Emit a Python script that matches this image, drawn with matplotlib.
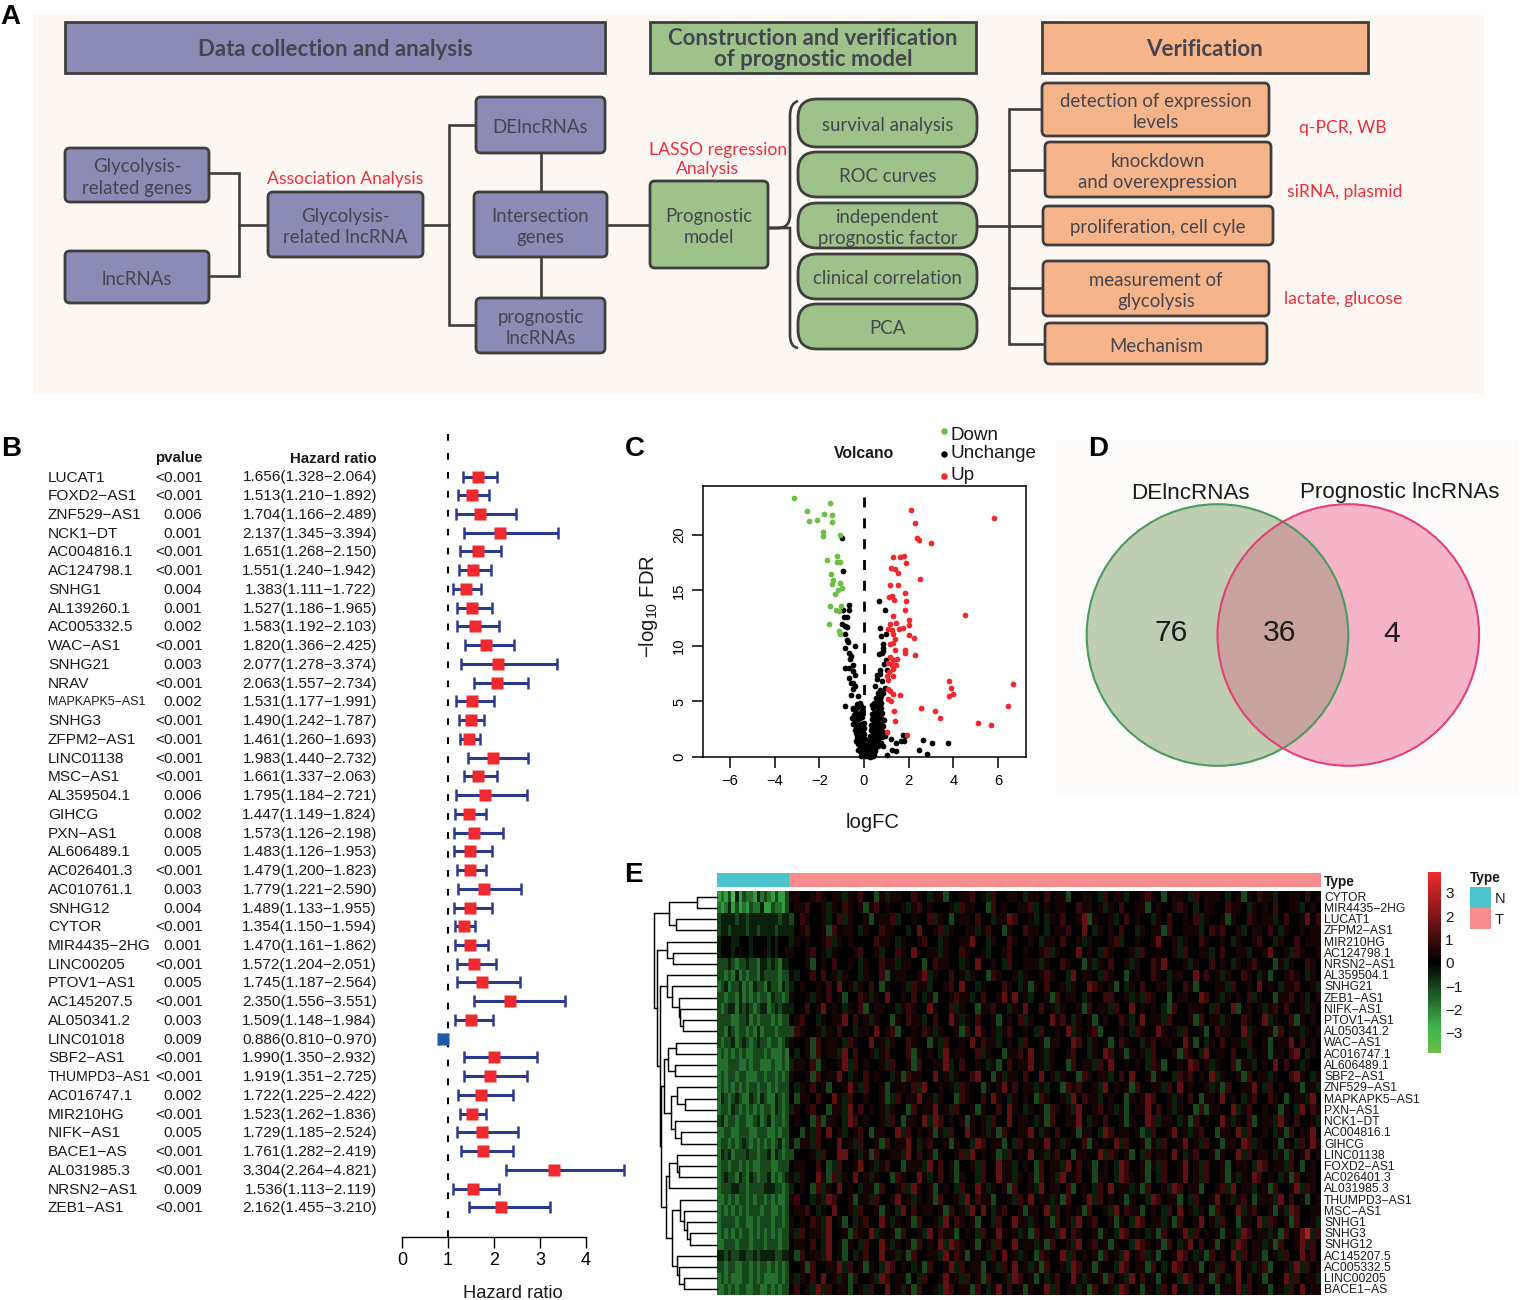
import matplotlib
matplotlib.use("Agg")
import matplotlib.pyplot as plt
import numpy as np
from matplotlib.patches import FancyBboxPatch, Rectangle, Circle, PathPatch
from matplotlib.path import Path
from matplotlib.colors import LinearSegmentedColormap, Normalize
from matplotlib.cm import ScalarMappable

plt.rcParams['font.family'] = ['Liberation Sans', 'DejaVu Sans']
plt.rcParams['mathtext.default'] = 'regular'

# ---------- forest plot data ----------
genes = ["LUCAT1","FOXD2−AS1","ZNF529−AS1","NCK1−DT","AC004816.1","AC124798.1","SNHG1","AL139260.1","AC005332.5","WAC−AS1",
         "SNHG21","NRAV","MAPKAPK5−AS1","SNHG3","ZFPM2−AS1","LINC01138","MSC−AS1","AL359504.1","GIHCG","PXN−AS1",
         "AL606489.1","AC026401.3","AC010761.1","SNHG12","CYTOR","MIR4435−2HG","LINC00205","PTOV1−AS1","AC145207.5","AL050341.2",
         "LINC01018","SBF2−AS1","THUMPD3−AS1","AC016747.1","MIR210HG","NIFK−AS1","BACE1−AS","AL031985.3","NRSN2−AS1","ZEB1−AS1"]
pvals = ["<0.001","<0.001","0.006","0.001","<0.001","<0.001","0.004","0.001","0.002","<0.001",
         "0.003","<0.001","0.002","<0.001","<0.001","<0.001","<0.001","0.006","0.002","0.008",
         "0.005","<0.001","0.003","0.004","<0.001","0.001","<0.001","0.005","<0.001","0.003",
         "0.009","<0.001","<0.001","0.002","<0.001","0.005","<0.001","<0.001","0.009","<0.001"]
hr = [1.656,1.513,1.704,2.137,1.651,1.551,1.383,1.527,1.583,1.820,2.077,2.063,1.531,1.490,1.461,1.983,1.661,1.795,1.447,1.573,
      1.483,1.479,1.779,1.489,1.354,1.470,1.572,1.745,2.350,1.509,0.886,1.990,1.919,1.722,1.523,1.729,1.761,3.304,1.536,2.162]
hr_low = [1.328,1.210,1.166,1.345,1.268,1.240,1.111,1.186,1.192,1.366,1.278,1.557,1.177,1.242,1.260,1.440,1.337,1.184,1.149,1.126,
          1.126,1.200,1.221,1.133,1.150,1.161,1.204,1.187,1.556,1.148,0.810,1.350,1.351,1.225,1.262,1.185,1.282,2.264,1.113,1.455]
hr_high = [2.064,1.892,2.489,3.394,2.150,1.942,1.722,1.965,2.103,2.425,3.374,2.734,1.991,1.787,1.693,2.732,2.063,2.721,1.824,2.198,
           1.953,1.823,2.590,1.955,1.594,1.862,2.051,2.564,3.551,1.984,0.970,2.932,2.725,2.422,1.836,2.524,2.419,4.821,2.119,3.210]

# ---------- volcano data ----------
down_x = [-3.15,-1.54,-2.54,-1.80,-1.45,-2.46,-2.09,-1.45,-1.84,-1.84,-1.06,-1.19,-1.64,-1.21,-1.06,-1.46,-1.37,-1.42,-1.07,-0.99,-1.15,-1.29,-1.51,-1.27,-1.11,-1.05,-1.55,-1.11,-1.07]
down_y = [23.3,22.9,22.15,21.9,21.8,21.25,21.3,21.2,20.3,19.9,20.0,18.1,17.7,17.55,17.6,16.45,15.9,15.6,15.7,15.2,15.0,14.7,13.6,13.25,13.1,13.55,12.0,11.35,11.1]
up_x = [2.09,5.82,2.30,2.39,2.45,3.0,1.30,1.61,1.78,1.88,1.22,1.37,1.51,2.49,1.18,1.54,1.84,1.24,1.12,1.33,1.88,1.85,4.52,1.3,2.03,2.01,1.43,1.18,1.07,1.27,1.58,1.76,1.31,2.01,2.25,1.37,1.28,1.16,1.85,1.37,1.84,2.27,1.15,1.3,1.49,1.07,1.25,1.43,1.3,1.1,1.01,1.31,1.07,3.82,3.91,3.99,6.67,3.79,1.07,1.16,1.31,1.61,1.09,1.19,2.57,6.45,1.34,3.16,3.42,1.37,5.12,5.67,1.03,1.93]
up_y = [22.2,21.5,21.04,19.7,19.5,19.27,17.98,18.0,18.1,17.45,17.0,16.95,16.55,16.0,15.5,15.5,14.8,14.5,14.4,14.1,14.0,13.25,12.8,12.7,12.3,11.85,12.1,12.0,11.55,11.45,11.55,11.6,11.1,11.0,10.7,10.6,10.25,10.2,9.65,9.6,9.4,9.2,9.0,8.75,8.8,8.5,8.3,8.3,7.9,7.65,7.25,7.25,6.9,6.85,6.2,5.7,6.6,5.45,6.15,5.9,5.7,5.6,5.2,5.0,4.4,4.55,4.1,4.1,3.5,3.2,3.05,2.9,2.25,2.0]
same_x = [-0.97,-0.95,-0.67,-0.67,-0.94,-0.90,-0.78,-0.97,-0.85,-0.78,-0.85,-0.78,-0.72,-0.84,-0.42,-0.65,-0.6,-0.63,-0.5,-0.87,-0.67,-0.5,-0.41,-0.66,-0.6,-0.48,-0.4,-0.48,-0.6,-0.27,-0.84,-0.48,-0.33,-0.18,
          -0.5,-0.42,-0.35,-0.25,-0.15,-0.45,-0.38,-0.3,-0.2,-0.1,-0.42,-0.35,-0.28,-0.18,-0.08,-0.5,-0.38,-0.3,-0.22,-0.12,-0.02,-0.36,-0.28,-0.2,-0.1,-0.02,-0.3,-0.24,-0.15,-0.07,0.02,-0.25,-0.18,-0.1,-0.03,0.05,-0.18,-0.12,-0.05,0.02,0.08,-0.12,-0.06,0.0,0.05,0.1,
          -0.55,-0.44,-0.33,-0.22,-0.4,-0.3,-0.2,-0.12,-0.34,-0.24,-0.14,-0.05,-0.28,-0.18,-0.08,0.0,
          0.66,0.94,0.73,0.97,0.78,0.84,0.87,0.87,0.79,0.69,0.97,0.91,0.72,0.6,0.72,1.01,0.6,0.79,0.49,0.72,0.94,0.64,0.87,0.34,
          0.55,0.62,0.7,0.78,0.45,0.52,0.6,0.68,0.76,0.42,0.5,0.58,0.66,0.74,0.38,0.46,0.54,0.62,0.7,0.8,0.36,0.44,0.52,0.6,0.68,0.78,0.88,0.32,0.4,0.48,0.56,0.64,0.74,0.84,0.3,0.38,0.46,0.54,0.62,0.72,0.82,0.92,0.26,0.34,0.42,0.5,0.58,0.68,0.8,0.92,0.22,0.3,0.38,0.46,0.54,0.64,0.74,0.2,0.28,0.36,0.44,0.52,0.62,0.16,0.24,0.32,0.4,0.48,0.12,0.2,0.28,0.36,0.44,0.1,0.18,0.26,0.34,0.42,
          1.22,1.76,1.84,1.64,1.79,1.43,2.66,3.06,3.75,2.45,2.83,1.24,1.42,1.01,0.84]
same_y = [19.7,16.75,13.65,13.2,13.2,12.6,12.6,12.0,11.8,11.7,11.1,10.5,10.35,9.85,10.0,9.4,9.1,8.8,8.25,8.05,8.05,7.75,7.4,7.1,6.7,6.7,6.4,6.1,5.6,5.5,4.55,4.45,4.75,4.9,
          4.3,4.2,4.4,4.5,4.6,3.8,3.7,3.9,4.0,4.1,3.2,3.3,3.4,3.5,3.6,3.0,2.7,2.8,2.9,3.0,3.1,2.2,2.3,2.4,2.5,2.6,1.8,1.7,1.9,2.0,2.1,1.2,1.3,1.4,1.5,1.6,0.8,0.7,0.9,1.0,1.1,0.1,0.2,0.3,0.4,0.5,
          3.5,3.45,3.55,3.5,2.45,2.5,2.4,2.45,1.45,1.5,1.4,1.45,0.6,0.55,0.45,0.6,
          14.0,13.25,11.6,11.1,10.85,10.2,9.8,9.55,9.4,9.3,8.7,8.35,7.85,7.4,7.5,7.8,7.0,6.8,6.35,6.05,6.2,5.75,5.75,4.7,
          5.3,5.4,5.2,5.5,4.9,4.8,5.0,4.7,4.9,4.4,4.5,4.6,4.3,4.4,3.9,4.0,3.8,4.1,3.9,4.0,3.4,3.5,3.3,3.6,3.4,3.5,3.3,2.9,3.0,2.8,3.1,2.9,3.0,2.8,2.4,2.5,2.3,2.6,2.4,2.5,2.3,2.2,1.9,2.0,1.8,2.1,1.9,2.0,1.8,1.9,1.4,1.5,1.3,1.6,1.4,1.5,1.3,0.9,1.0,0.8,1.1,0.9,1.0,0.5,0.6,0.4,0.7,0.5,0.2,0.3,0.1,0.3,0.2,0.05,0.1,0.0,0.1,0.05,
          1.65,1.95,1.85,1.45,1.4,1.25,1.5,1.25,1.25,0.65,0.25,0.6,0.55,0.2,1.0]

# ---------- venn ----------
venn_counts = ["76", "36", "4"]
venn_names = ["DElncRNAs", "Prognostic lncRNAs"]

# ---------- heatmap data (colour codes read by eye, 0 = greenest, 5 = black, 9 = reddest) ----------
heat_genes = ["CYTOR","MIR4435−2HG","LUCAT1","ZFPM2−AS1","MIR210HG","AC124798.1","NRSN2−AS1","AL359504.1","SNHG21","ZEB1−AS1","NIFK−AS1","PTOV1−AS1",
              "AL050341.2","WAC−AS1","AC016747.1","AL606489.1","SBF2−AS1","ZNF529−AS1","MAPKAPK5−AS1","PXN−AS1","NCK1−DT","AC004816.1","GIHCG","LINC01138",
              "FOXD2−AS1","AC026401.3","AL031985.3","THUMPD3−AS1","MSC−AS1","SNHG1","SNHG3","SNHG12","AC145207.5","AC005332.5","LINC00205","BACE1−AS"]
heat_values = [
"12130413221423213113 6655676566465755364665576546635566756475566546657566355665475664556765356654756665456365766455665756",
"21241312132241132213 5667556465765636756556467565556476655375655667456566557665646575566356556765456655766546565755664565",
"34444344344444444344 3576556457465563566745565574653566575546687556454657556836556457565546575565746556365576566457556857",
"34434444344344443444 4567556375665465576655458556746556646755365576654566755854656575546566375566645767556456657546556566",
"45554455545555454555 4656556746565555766546556755465566855465576556546657556465556745565568556465576556546556755465575666",
"45554565545556454556 6556756465556755645576585566465576556455675565567465558565476555647556556475566457556645568556476556",
"33343233433244343244 5556356575565465576646655357665546585565475566646557655364657556465576855564655756546567555364655765",
"33232423233243333233 6455757564655465573566556846557564655376556465567655485665476553565576546655857564655765463556765465",
"23423342324332433243 4565565758564657536556476645567585546555765463657556465587656354657556645576355566475565856546675564",
"33233242323233243323 6556465756355764658556575463556766457556858564556375665465577556464765535665587564656574655366756456",
"32344243432344234344 4557568565465735665546765586557465536675546585575646556375664755856565437556665475583565646757556465",
"33332233423233323233 5675546566857564655365766457558646575563565746555867546563565576458566475556375664655765584655736565",
"33243233232423332333 3765564657554665856735565764655637586564675565475565846567355565476558656475563576655846556375664656",
"32334234323433233234 6556375665476558564655765536475565857664565475563665587546563576554675665586354657566475563566857565",
"23232323223332322232 5456375664857556467555736565485665574655366758564655675546587563656475556376548566575546563665785465",
"22233322323322232232 4665736556847565564755637556684575565463575668564655375664758556565476355658756465573664565857564655",
"23233233222332332323 6556375668546575655463766558564655785536466575585646553765664575855636554767565846556375664655786546",
"23232323233233232333 5465756355686475563566574855656476553656857566464553767556485656375566475856556463755668547565563664",
"24323432243243224323 5366575586475565563475668564655376557586546565376556485766456553656875564657536658565467557653566485",
"23324323232323324323 4656755366485756564655375668564755636557586546563765648556756463566857564655373665584675565636548576",
"34233233223423423323 5655373665487565564753665848756563656475585665463755668546575563655874665463756558646573566486575564",
"22332233322333223233 5536475856456753665584756563647558656463755668546575563665487566563475568564675536658475565463756685",
"23323234323232323423 6366475558564755637566854675563655487566354756658564655736565847556364755685647553665874655636547586",
"24342333433233424323 3555647558856463755664857563655674856563475658564675536655847656354756658546755636558475665463756856",
"23323323232233322333 5665575347556856467553666485756355647558664565375664857563565487556364755685647556356654875664753565",
"23433243243233423234 6465586374658564655376558645756365547558664656375648567553665487656354755685647556364658756546375665",
"23334433233334443323 4565374658565466375567486563565475586465637556485665735654758566463755648756635567485664563755684765",
"22323233232332323223 6755464875563564755685646563755648576635564758566463755684756563655487566354755685646753666485756356",
"23232323233323322323 5667546585564755636548575665637564858546755636658475656375564857663565475856465376558467556364875566",
"23333233223233323323 6565764856354675586465637556485765635547558664656375648567556365487566463755685647553665847656375564",
"23232323323232323233 6475664855637658465637556485766356547558656463756648576556365487565463755684756563654875664637568947",
"22333233323332333233 5665754856365475586465637565848765635647558566463755648567563655487656375468575636548756646375568475",
"44343344334344443344 6375664856354675585646375566485763565475856465376558475656375648567463556875463756584756635647558675",
"33233223323233232323 5563755668475636548756546375568475663564758564637556487563655487566375458756635647558564673556484756",
"23232223323232222323 6465758564637556487566354755685647563755648756354675586465637564857563655487566375468575636558475664",
"22323233223322323233 5756484756635647558564637556487566375468575636558475664637556487563654758564675536658475663564758566",
]
digit_values = [-3.2,-2.4,-1.7,-1.1,-0.5,0.0,0.4,0.9,1.6,2.8]
heat_n = [[digit_values[int(c)] for c in r.split()[0]] for r in heat_values]
heat_t = [[digit_values[int(c)] for c in r.split()[1]] for r in heat_values]
nc = min(len(r) for r in heat_n); tc = min(len(r) for r in heat_t)
heat_n = np.array([r[:nc] for r in heat_n]); heat_t = np.array([r[:tc] for r in heat_t])

# dendrogram: (merge position, left, right); ints are heatmap rows
tree = (654.3,
        (669, (696.7, 0, 1), (675.7, 2, 3)),
        (657.3,
         (666.7, 4, (673, 5, 6)),
         (660,
          (667.3, 7, (672.3, 8, (678.7, 9, (680, 10, (683, 11, 12))))),
          (661,
           (664.3,
            (668.3, (676, 13, 14), (675, 15, 16)),
            (670.7, (676.7, 17, (685, 18, 19)), (675, 20, (680.7, 21, 22)))),
           (666,
            (669.3, (676.7, 23, (679.3, 24, 25)), 26),
            (672.3,
             (680, 27, (684.3, 28, (687.3, 29, (690, 30, 31)))),
             (676.7, 32, (679.3, 33, (684, 34, 35)))))))))

W, H = 1520, 1300
fig = plt.figure(figsize=(15.2, 13), dpi=100, facecolor='white')

def axpx(x0, y0, x1, y1, **kw):
    return fig.add_axes([x0 / W, 1 - y1 / H, (x1 - x0) / W, (y1 - y0) / H], **kw)

ov = axpx(0, 0, W, H)
ov.set_xlim(0, W); ov.set_ylim(H, 0); ov.axis('off')
ov.patch.set_alpha(0)
ov.set_zorder(5)

# ---------- panel A ----------
ov.add_patch(Rectangle((33, 15), 1451, 379, fc='#FDF7F3', ec='none', zorder=0))
PURPLE, GREEN, ORANGE = '#8B8BB5', '#9DC38A', '#F6B48B'
EDGE = '#3E3E3E'
TXT = '#45454F'
AF = ['Lato', 'DejaVu Sans']

def box(x0, y0, x1, y1, fc, text, r=5, size=13.4, weight='normal', col=TXT, dy=2.5, dx=0):
    ov.add_patch(FancyBboxPatch((x0 + r, y0 + r), x1 - x0 - 2 * r, y1 - y0 - 2 * r,
                                boxstyle=f"round,pad={r},rounding_size={r}", fc=fc, ec=EDGE, lw=2.0, zorder=3))
    ov.text((x0 + x1) / 2 + dx, (y0 + y1) / 2 + dy, text, ha='center', va='center', fontsize=size, color=col,
            family=AF, weight=weight, zorder=4, linespacing=1.3)

def header(x0, y0, x1, y1, fc, text):
    ov.add_patch(Rectangle((x0, y0), x1 - x0, y1 - y0, fc=fc, ec=EDGE, lw=2.0, zorder=3))
    ov.text((x0 + x1) / 2, (y0 + y1) / 2 + 1.5, text, ha='center', va='center', fontsize=16, color=TXT, family=AF,
            weight='bold', zorder=4, linespacing=1.05)

header(65, 22, 605, 73, PURPLE, "Data collection and analysis")
header(650, 22, 976, 73, GREEN, "Construction and verification\nof prognostic model")
header(1042, 22, 1368, 73, ORANGE, "Verification")

box(65, 148, 209, 202, PURPLE, "Glycolysis-\nrelated genes")
box(65, 251, 209, 303, PURPLE, "lncRNAs")
box(268, 192, 423, 257, PURPLE, "Glycolysis-\nrelated lncRNA")
box(476, 97, 605, 153, PURPLE, "DElncRNAs")
box(474, 192, 607, 257, PURPLE, "Intersection\ngenes")
box(476, 298, 605, 353, PURPLE, "prognostic\nlncRNAs")
box(650, 181, 768, 268, GREEN, "Prognostic\nmodel")
for (y0, y1, t) in [(99, 147, "survival analysis"), (152, 197, "ROC curves"), (203, 248, "independent\nprognostic factor"),
                    (254, 299, "clinical correlation"), (304, 349, "PCA")]:
    box(798, y0, 977, y1, GREEN, t, r=19)
box(1042, 83, 1269, 136, ORANGE, "detection of expression\nlevels")
box(1045, 142, 1271, 197, ORANGE, "knockdown\nand overexpression")
box(1043, 206, 1273, 245, ORANGE, "proliferation, cell cyle")
box(1043, 261, 1269, 316, ORANGE, "measurement of\nglycolysis")
box(1045, 323, 1267, 364, ORANGE, "Mechanism")

segments = [[(209, 173), (239, 173), (239, 276), (209, 276)], [(239, 225), (268, 225)], [(423, 225), (449, 225)],
            [(476, 125), (449, 125), (449, 325), (476, 325)], [(541, 153), (541, 192)], [(541, 257), (541, 298)],
            [(607, 225), (650, 225)], [(977, 226), (1043, 226)], [(1042, 109), (1009, 109), (1009, 344), (1045, 344)],
            [(1009, 170), (1045, 170)], [(1009, 288), (1043, 288)]]
for s in segments:
    xs, ys = zip(*s)
    ov.plot(xs, ys, color=EDGE, lw=1.9, zorder=2, solid_joinstyle='miter')
brace = Path([(798, 101), (790, 103), (790, 116), (790, 215), (790, 228), (778, 228), (768, 228),
              (778, 228), (790, 228), (790, 241), (790, 335), (790, 347), (798, 348)],
             [Path.MOVETO, Path.CURVE3, Path.CURVE3, Path.LINETO, Path.CURVE3, Path.CURVE3, Path.LINETO,
              Path.CURVE3, Path.CURVE3, Path.CURVE3, Path.LINETO, Path.CURVE3, Path.CURVE3])
ov.add_patch(PathPatch(brace, fc='none', ec=EDGE, lw=1.9, zorder=2))
RED = '#EE2F3C'
for (x, y, t) in [(345, 179, "Association Analysis"), (718, 150, "LASSO regression"), (707, 169, "Analysis"),
                  (1343, 128, "q-PCR, WB"), (1345, 192, "siRNA, plasmid"), (1343, 299, "lactate, glucose")]:
    ov.text(x, y, t, ha='center', va='center', color=RED, fontsize=12.6, family=AF, zorder=4)

# panel letters
for (x, y, t) in [(10, 17, 'A'), (11, 449, 'B'), (635, 449, 'C'), (1098, 449, 'D'), (633, 875, 'E')]:
    ov.text(x, y, t, ha='center', va='center', fontsize=20, weight='bold', color='black', zorder=6)

# ---------- panel B ----------
ROW0, ROWH = 476.5, 18.74
X0, XU = 402.0, 46.0
axb = axpx(380, 430, 640, 1260)
axb.patch.set_alpha(0)
axb.set_xlim((380 - X0) / XU, (640 - X0) / XU)
axb.set_ylim((1260 - ROW0) / ROWH, (430 - ROW0) / ROWH)
for sp in ['top', 'left', 'right']:
    axb.spines[sp].set_visible(False)
axisrow = (1237 - ROW0) / ROWH
axb.spines['bottom'].set_position(('data', axisrow))
axb.spines['bottom'].set_bounds(0, 4)
axb.spines['bottom'].set_linewidth(1.0)
axb.set_xticks(range(5))
axb.tick_params(axis='x', length=8, width=1.0, labelsize=13, pad=3)
axb.set_yticks([])
axb.plot([1, 1], [(434 - ROW0) / ROWH, axisrow], color='black', lw=1.5, ls=(0, (3.2, 5.9)), zorder=1)
rows = np.arange(len(hr))
for i in rows:
    col = '#2B3A8C' if hr[i] > 1 else '#1F5AA8'
    mk = '#EE2A2F' if hr[i] > 1 else '#1F5AA8'
    axb.plot([hr_low[i], hr_high[i]], [i, i], color=col, lw=2.2, zorder=2, solid_capstyle='butt',
             marker='|', ms=9, mew=1.8)
    axb.plot([hr[i]], [i], marker='s', ms=8, color=mk, mec='none', zorder=3)
    name_size = 8.9 if genes[i].startswith('MAPKAPK5') else (10.2 if genes[i].startswith('THUMPD3') else 11.1)
    ov.text(48, ROW0 + ROWH * i + 1, genes[i], ha='left', va='center', fontsize=name_size, color='#1A1A1A')
    ov.text(202.5, ROW0 + ROWH * i + 1, pvals[i], ha='right', va='center', fontsize=11.1, color='#1A1A1A')
    ov.text(377, ROW0 + ROWH * i + 1, f"{hr[i]:.3f}({hr_low[i]:.3f}−{hr_high[i]:.3f})", ha='right', va='center',
            fontsize=11.1, color='#1A1A1A')
ov.text(202.5, 458, "pvalue", ha='right', va='center', fontsize=10.8, weight='bold', color='#1A1A1A')
ov.text(377, 459, "Hazard ratio", ha='right', va='center', fontsize=10.8, weight='bold', color='#1A1A1A')
ov.text(513, 1294, "Hazard ratio", ha='center', va='center', fontsize=13.2, color='#1A1A1A')

# ---------- panel C ----------
axc = axpx(703, 486, 1025.5, 757)
axc.set_xlim((703 - 864) / 22.33, (1025.5 - 864) / 22.33)
axc.set_ylim((757.3 - 757) / 11.12, (757.3 - 486) / 11.12)
for sp in axc.spines.values():
    sp.set_linewidth(1.1)
axc.set_xticks([-6, -4, -2, 0, 2, 4, 6])
axc.set_xticklabels(["−6", "−4", "−2", "0", "2", "4", "6"])
axc.set_yticks([0, 5, 10, 15, 20])
axc.tick_params(axis='both', length=8, width=1.1, labelsize=10.6, pad=4)
plt.setp(axc.get_yticklabels(), rotation=90, va='center')
axc.plot([0, 0], [0, 24.2], color='black', lw=2.0, ls=(0, (3.6, 3.9)), zorder=4)
S = 17
axc.scatter(same_x, same_y, s=S, c='black', linewidths=0, zorder=3, clip_on=False)
axc.scatter(down_x, down_y, s=S, c='#6CBE45', linewidths=0, zorder=3)
axc.scatter(up_x, up_y, s=S, c='#EE2A2F', linewidths=0, zorder=3)
ov.text(864, 453, "Volcano", ha='center', va='center', fontsize=11.3, weight='bold', color='#1A1A1A')
for (y, ty, lab, c) in [(431, 435, "Down", '#6CBE45'), (454, 454, "Unchange", 'black'), (476, 476, "Up", '#EE2A2F')]:
    ov.scatter([943.5], [y], s=22, c=c, linewidths=0, zorder=6)
    ov.text(951, ty, lab, ha='left', va='center', fontsize=13.6, color='#1A1A1A', zorder=6)
ov.text(873, 823, "logFC", ha='center', va='center', fontsize=14.6, color='#1A1A1A')
ov.text(648, 606, "−log$_{10}$ FDR", ha='center', va='center', rotation=90, fontsize=14.6, color='#1A1A1A')

# ---------- panel D ----------
ov.add_patch(Rectangle((1056, 440), 463, 355, fc='#FDFBF9', ec='none', zorder=0))
c1, c2, rv = (1217.5, 635), (1348.3, 635), 130.8
ov.add_patch(Circle(c1, rv, fc='#BFCEB1', ec='none', zorder=1))
ov.add_patch(Circle(c2, rv, fc='#F6B4C8', ec='none', zorder=1.1))
over = Circle(c1, rv, fc='#C7A29E', ec='none', zorder=1.2)
ov.add_patch(over)
over.set_clip_path(Circle(c2, rv, transform=ov.transData))
ov.add_patch(Circle(c1, rv, fc='none', ec='#4C9A5E', lw=1.5, zorder=1.3))
ov.add_patch(Circle(c2, rv, fc='none', ec='#E4407A', lw=1.5, zorder=1.4))
ov.text(1190, 493.5, venn_names[0], ha='center', va='center', fontsize=16.1, color='#1A1A1A')
ov.text(1400, 492.5, venn_names[1], ha='center', va='center', fontsize=16.1, color='#1A1A1A')
for (x, y, t) in zip([1171, 1280, 1392], [633, 633, 634], venn_counts):
    ov.text(x, y, t, ha='center', va='center', fontsize=21.6, color='#1A1A1A', zorder=3)

# ---------- panel E ----------
cmap = LinearSegmentedColormap.from_list('gbr', [(0, '#6EBE45'), (0.14, '#3DB54A'), (0.5, '#000000'), (1, '#EF2B2D')])
norm = Normalize(-3.87, 3.9)
HX0, HXM, HX1, HY0, HY1 = 717, 789, 1321, 891, 1295
axn = axpx(HX0, HY0, HXM, HY1)
axn.imshow(heat_n, aspect='auto', cmap=cmap, norm=norm, interpolation='nearest')
axn.axis('off')
axt = axpx(HXM, HY0, HX1, HY1)
axt.imshow(heat_t, aspect='auto', cmap=cmap, norm=norm, interpolation='nearest')
axt.axis('off')
CN, CT = '#4BC4CE', '#F78D8D'
ov.add_patch(Rectangle((HX0, 873), HXM - HX0, 14, fc=CN, ec='none'))
ov.add_patch(Rectangle((HXM, 873), HX1 - HXM, 14, fc=CT, ec='none'))
ov.text(1324, 882, "Type", ha='left', va='center', fontsize=9.8, weight='bold', color='#1A1A1A')
rowh = (HY1 - HY0) / len(heat_genes)
rowy = lambda i: HY0 + rowh * (i + 0.5)
for i, g in enumerate(heat_genes):
    ov.text(1324, rowy(i) + 1, g, ha='left', va='center', fontsize=8.7, color='#1A1A1A')

def draw(node):
    if isinstance(node, int):
        return HX0, rowy(node)
    h, a, b = node
    xa, ya = draw(a)
    xb, yb = draw(b)
    ov.plot([xa, h, h, xb], [ya, ya, yb, yb], color='black', lw=1.05, solid_joinstyle='miter', zorder=2)
    return h, (ya + yb) / 2
draw(tree)

cax = axpx(1428, 872, 1441, 1053)
cb = fig.colorbar(ScalarMappable(norm=norm, cmap=cmap), cax=cax)
cb.outline.set_visible(False)
cb.set_ticks([-3, -2, -1, 0, 1, 2, 3])
cb.set_ticklabels(["−3", "−2", "−1", "0", "1", "2", "3"])
cb.ax.tick_params(length=0, labelsize=11, pad=3, labelcolor='#1A1A1A')
ov.text(1470, 878, "Type", ha='left', va='center', fontsize=9.8, weight='bold', color='#1A1A1A')
ov.add_patch(Rectangle((1470, 887), 21, 21, fc=CN, ec='none'))
ov.add_patch(Rectangle((1470, 908), 21, 21, fc=CT, ec='none'))
ov.text(1495, 899, "N", ha='left', va='center', fontsize=10.5, color='#1A1A1A')
ov.text(1495, 920, "T", ha='left', va='center', fontsize=10.5, color='#1A1A1A')

fig.savefig('out.png', dpi=100)
